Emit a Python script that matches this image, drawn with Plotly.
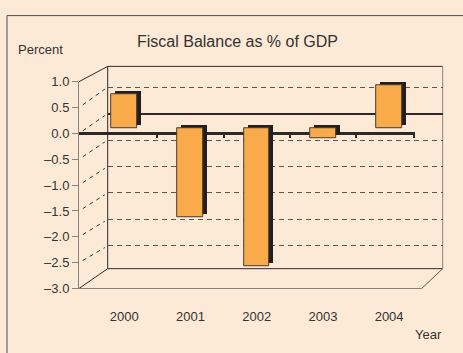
import plotly.graph_objects as go

W, H = 463, 353

# ---- data -------------------------------------------------------------
years = ["2000", "2001", "2002", "2003", "2004"]
balance = [0.66, -1.72, -2.68, -0.20, 0.83]          # fiscal balance, % of GDP
y_tickvals = [1.0, 0.5, 0.0, -0.5, -1.0, -1.5, -2.0, -2.5, -3.0]
y_ticktext = [f"{v:.1f}".replace("-", "\u2013") for v in y_tickvals]
back_grid = [0.5, 0.0, -0.5, -1.0, -1.5, -2.0, -2.5]

# ---- colours / fonts ---------------------------------------------------
BG = "#FDEAD6"
BAR = "#F9AA4B"
BAR_EDGE = "#4a3a2c"
SHADOW = "#231F20"
DARK = "#2d2926"
GREY = "#8b827a"
TXT = "#333333"
FONT = "Liberation Sans, Arial, sans-serif"


def px(x):
    return x / W


def py(y):
    return 1 - y / H


# ---- pseudo-3D geometry (pixels) --------------------------------------
# front wall: value axis on the left
F_L, F_R, F_T, F_B = 79.0, 415.0, 78.0, 294.0
F_RANGE = [-3.0, 1.0]
# back wall
B_L, B_R, B_T, B_B = 107.7, 442.7, 62.0, 273.3
B_RANGE = [-2.93, 0.891]
# bar plane: category centres and value scale
C0, DC = 124.3, 66.2
BAR_ZERO, BAR_SCALE = 126.3, 54.0
SH_DX, SH_DY = 4.0, -3.6


def front_y(v):
    return F_B - (v - F_RANGE[0]) / (F_RANGE[1] - F_RANGE[0]) * (F_B - F_T)


def back_y(v):
    return B_B - (v - B_RANGE[0]) / (B_RANGE[1] - B_RANGE[0]) * (B_B - B_T)


bar_l = C0 - DC / 2
bar_r = C0 + DC * 4.5
bar_top = BAR_ZERO - BAR_SCALE * 1.0
bar_bot = BAR_ZERO + BAR_SCALE * 3.0

fig = go.Figure()

# back wall gridlines (subplot xy)
fig.add_trace(go.Scatter(x=[], y=[], xaxis="x", yaxis="y", showlegend=False, hoverinfo="skip"))
# front wall value axis + zero line (subplot x2y2)
fig.add_trace(go.Scatter(x=[], y=[], xaxis="x2", yaxis="y2", showlegend=False, hoverinfo="skip"))
# bar depth (dark side)
fig.add_trace(go.Bar(x=years, y=balance, xaxis="x3", yaxis="y3", width=0.39,
                     marker=dict(color=SHADOW, line=dict(width=0)),
                     showlegend=False, hoverinfo="skip"))
# bar front faces
fig.add_trace(go.Bar(x=years, y=balance, xaxis="x4", yaxis="y4", width=0.39,
                     marker=dict(color=BAR, line=dict(color=BAR_EDGE, width=1)),
                     showlegend=False))

hidden = dict(showgrid=False, zeroline=False, showline=False, showticklabels=False, ticks="")

x2_lo = (F_L - C0) / DC
x2_hi = (F_R - C0) / DC

layout = dict(
    width=W, height=H, autosize=False,
    margin=dict(l=0, r=0, t=0, b=0),
    paper_bgcolor=BG, plot_bgcolor="rgba(0,0,0,0)",
    font=dict(family=FONT, size=13, color=TXT),
    bargap=0,
    title=dict(text="Fiscal Balance as % of GDP", x=237.5 / W, xanchor="center",
               y=py(41.5), yanchor="middle", font=dict(size=16, color=TXT)),
    # back wall
    xaxis=dict(domain=[px(B_L), px(B_R)], range=[0, 1], anchor="y", **hidden),
    yaxis=dict(domain=[py(B_B), py(B_T)], range=B_RANGE, anchor="x",
               showgrid=True, gridcolor="#5e554e", gridwidth=1, griddash="5px,4px",
               tickmode="array", tickvals=back_grid,
               zeroline=True, zerolinecolor=DARK, zerolinewidth=2,
               showline=False, showticklabels=False, ticks=""),
    # front wall
    xaxis2=dict(domain=[px(F_L), px(F_R)], range=[x2_lo, x2_hi], anchor="free",
                position=py(front_y(0.0)), showgrid=False, zeroline=False, showline=False,
                showticklabels=False, ticks="outside", ticklen=4, tickwidth=2, tickcolor=DARK,
                tickmode="array", tickvals=[0.5, 1.5, 2.5, 3.5, x2_hi - 0.02]),
    yaxis2=dict(domain=[py(F_B), py(F_T)], range=F_RANGE, anchor="x2",
                showgrid=False, zeroline=True, zerolinecolor=DARK, zerolinewidth=2.5,
                showline=True, linecolor=GREY, linewidth=1,
                ticks="outside", ticklen=6, tickcolor=GREY, tickwidth=1,
                tickmode="array", tickvals=y_tickvals, ticktext=y_ticktext,
                tickfont=dict(size=13, color=TXT)),
    # bar depth
    xaxis3=dict(domain=[px(bar_l + SH_DX), px(bar_r + SH_DX)], range=[-0.5, 4.5],
                anchor="y3", type="category", **hidden),
    yaxis3=dict(domain=[py(bar_bot + SH_DY), py(bar_top + SH_DY)], range=[-3, 1],
                anchor="x3", **hidden),
    # bar faces + category labels
    xaxis4=dict(domain=[px(bar_l), px(bar_r)], range=[-0.5, 4.5], type="category",
                anchor="free", position=py(313.5), showgrid=False, zeroline=False,
                showline=False, ticks="", tickfont=dict(size=13, color=TXT)),
    yaxis4=dict(domain=[py(bar_bot), py(bar_top)], range=[-3, 1], anchor="x4", **hidden),
)

shapes = []


def seg(x0, y0, x1, y1, color, width=1, dash=None):
    line = dict(color=color, width=width)
    if dash:
        line["dash"] = dash
    shapes.append(dict(type="line", xref="paper", yref="paper",
                       x0=px(x0), y0=py(y0), x1=px(x1), y1=py(y1),
                       line=line, layer="below"))


# outer panel border
shapes.append(dict(type="rect", xref="paper", yref="paper",
                   x0=px(7), y0=py(9), x1=px(W + 10), y1=py(H + 10),
                   line=dict(color="#4d4d4d", width=1), fillcolor="rgba(0,0,0,0)", layer="below"))
# back wall frame
seg(B_L, B_T, B_L, B_B, DARK)
seg(B_L, B_T, B_R, B_T, DARK)
seg(B_L, B_B, B_R, B_B, DARK)
seg(B_R, B_T, B_R, B_B, GREY)
# floor / side edges
seg(F_L, F_T, B_L, B_T, DARK)
seg(F_L, F_B, B_L, B_B, DARK)
seg(F_L, F_B, 421.7, F_B, GREY)
seg(421.7, F_B, B_R, B_B, "#5e554e")
# dashed gridlines across the left side wall
for v in back_grid:
    ya, yb = front_y(v), back_y(v)
    t0, t1 = 0.13, 0.9
    seg(F_L + (B_L - F_L) * t0, ya + (yb - ya) * t0,
        F_L + (B_L - F_L) * t1, ya + (yb - ya) * t1, "#3d3530", dash="4px,4px")

layout["shapes"] = shapes
layout["annotations"] = [
    dict(text="Percent", xref="paper", yref="paper", x=px(40.5), y=py(44.3),
         xanchor="center", yanchor="middle", showarrow=False, font=dict(size=13, color=TXT)),
    dict(text="Year", xref="paper", yref="paper", x=px(428.3), y=py(342),
         xanchor="center", yanchor="middle", showarrow=False, font=dict(size=13, color=TXT)),
]

fig.update_layout(**layout)
fig.write_html("out.html")
